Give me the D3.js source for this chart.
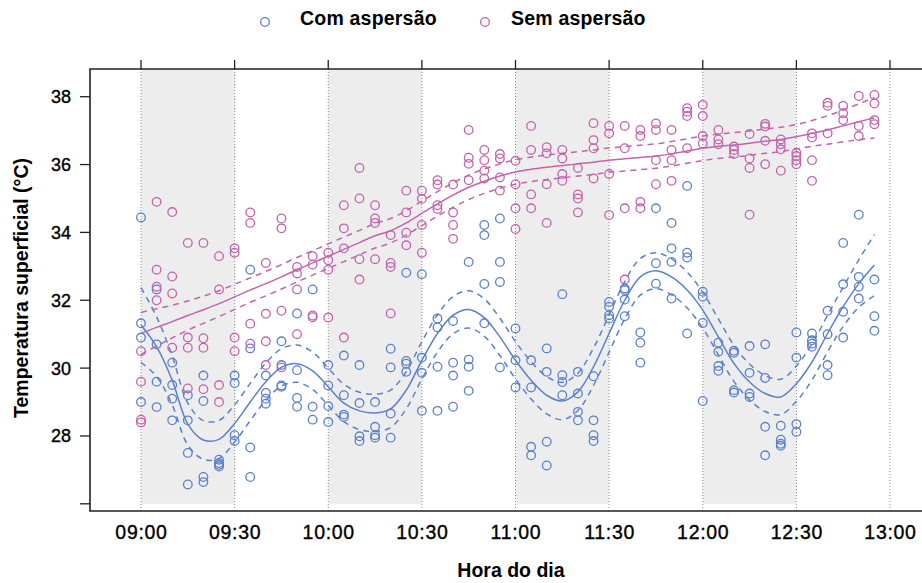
<!DOCTYPE html>
<html><head><meta charset="utf-8">
<script src="https://cdn.jsdelivr.net/npm/d3@7/dist/d3.min.js"></script>
<style>
body{margin:0;background:#fff;}
svg text{font-family:"Liberation Sans",Arial,sans-serif;fill:#000;}
</style></head>
<body><svg id="c" width="922" height="583"></svg>
<script>
const times = ["09:00","09:05","09:10","09:15","09:20","09:25","09:30","09:35","09:40","09:45","09:50","09:55",
"10:00","10:05","10:10","10:15","10:20","10:25","10:30","10:35","10:40","10:45","10:50","10:55",
"11:00","11:05","11:10","11:15","11:20","11:25","11:30","11:35","11:40","11:45","11:50","11:55",
"12:00","12:05","12:10","12:15","12:20","12:25","12:30","12:35","12:40","12:45","12:50","12:55"];
const seriesNames = ["Com aspersão","Sem aspersão"];
const xTickLabels = ["09:00","09:30","10:00","10:30","11:00","11:30","12:00","12:30","13:00"];
const yTicks = [26,28,30,32,34,36,38];
const yTickLabels = ["","28","30","32","34","36","38"];
const shadedStarts = ["09:00","10:00","11:00","12:00"];
const shadedEnds = ["09:30","10:30","11:30","12:30"];

const comObs = [
[34.44,31.32,30.9,29.0],[32.32,30.7,29.6,28.85],[30.16,29.5,29.1,28.46],[29.2,28.46,27.5,26.57],
[29.78,29.03,26.79,26.64],[27.3,27.2,27.15,27.1],[29.78,29.56,28.02,27.85],[32.9,30.58,27.66,26.79],
[29.78,29.27,29.1,28.95],[30.79,30.09,29.49,29.45],[31.61,29.94,29.12,28.86],[32.32,28.86,28.48],
[30.09,29.49,28.88,28.41],[30.37,29.2,28.63,28.56],[30.09,28.97,27.99,27.85],[29.0,28.27,28.02,27.95],
[30.57,30.02,28.66,27.95],[32.81,30.21,30.13,29.89],[32.77,30.31,29.86,28.74],[31.46,31.2,30.04,28.74],
[31.39,30.16,29.78,28.86],[33.13,30.25,30.04,29.33],[34.22,33.92,32.48,31.32],[34.41,33.13,32.54,30.02],
[31.17,30.23,29.43],[30.23,29.43,27.68,27.43],[30.58,29.89,27.83,27.13],[32.18,29.79,29.59,29.2],
[29.89,29.25,28.71,28.46],[29.76,28.46,28.02,27.85],[31.95,31.81,31.56,31.46],[32.35,32.3,32.02,31.53],
[31.05,30.75,30.16],[34.71,33.09,32.49],[34.28,33.53,33.13,32.05],[35.37,33.4,33.26,31.02],
[32.25,32.1,31.33,29.03],[30.75,30.48,30.06,29.92],[30.51,30.45,29.35,29.28],[30.65,29.86,29.25,29.15],
[30.7,29.71,28.27,27.43],[28.3,27.89,27.77,27.71],[31.05,30.31,28.35,28.12],[31.02,30.82,30.72,30.63],
[31.69,31.0,30.09,29.79],[33.69,32.47,31.66,30.9],[34.52,32.69,32.4,32.05],[32.61,31.53,31.1]];

const semObs = [
[30.5,29.6,28.48,28.4],[34.9,32.9,32.4,32.0],[34.6,32.7,32.2,30.6],[33.69,30.9,30.6,29.4],
[33.69,30.88,30.6,29.38],[33.3,32.32,29.5,29.0],[33.53,33.4,30.9,30.5],[34.59,34.28,31.31,30.72],
[33.1,31.6,30.79,30.09],[34.41,34.12,31.69,30.02],[32.98,32.79,32.32,31.0],[33.3,33.05,31.55,31.5],
[33.4,33.18,32.9,31.49],[34.8,34.12,33.53,30.9],[35.9,35.0,33.21,32.61],[34.8,34.41,34.28,33.21],
[33.92,33.1,32.98,31.61],[35.23,34.59,33.99,33.62],[35.23,34.99,34.22,33.4],[35.54,35.41,34.8,34.69],
[35.41,34.59,34.22,33.81],[37.02,36.2,36.02,35.54],[36.43,36.13,35.82,35.59],[36.31,36.18,35.62,35.23],
[36.11,35.42,34.71,34.1],[37.14,36.43,35.12,34.71],[36.51,36.33,35.42,34.28],[36.43,36.18,35.72,35.52],
[35.9,35.12,35.0,34.59],[37.22,36.72,36.48,35.59],[37.14,36.92,35.72,34.51],[37.14,36.48,34.71,32.61],
[37.02,36.84,34.9,34.71],[37.21,37.02,36.13,35.42],[37.02,36.43,36.13,35.52],[37.66,37.56,37.43,36.48],
[37.76,37.43,36.84,36.62],[37.02,36.74,36.6],[36.53,36.43,36.31],[36.9,36.18,35.9,34.52],
[37.2,37.12,36.7,36.01],[36.74,36.6,36.45,35.82],[36.35,36.25,36.13,36.01],[36.92,36.8,36.13,35.52],
[37.82,37.73,36.92],[37.73,37.51,37.31],[38.02,37.14,36.84],[38.05,37.8,37.31,37.19]];

const comFit = [31.27,30.63,29.64,28.35,27.88,27.9,28.37,29.0,29.6,30.02,30.13,29.92,
29.45,28.97,28.74,28.68,28.8,29.35,30.23,31.02,31.56,31.73,31.49,30.92,
30.23,29.64,29.2,29.03,29.3,30.04,31.02,32.0,32.69,32.87,32.69,32.3,
31.71,30.92,30.14,29.59,29.25,29.15,29.54,30.18,31.02,31.81,32.49,33.04];
const comUpper = [32.37,31.51,30.36,28.97,28.45,28.46,28.92,29.55,30.15,30.57,30.68,30.47,
30.0,29.52,29.29,29.23,29.35,29.9,30.78,31.57,32.11,32.28,32.04,31.47,
30.78,30.19,29.75,29.58,29.85,30.59,31.57,32.55,33.23,33.4,33.22,32.83,
32.24,31.45,30.67,30.12,29.78,29.67,30.06,30.71,31.56,32.39,33.19,33.94];
const comLower = [30.17,29.75,28.92,27.73,27.31,27.34,27.82,28.45,29.05,29.47,29.58,29.37,
28.9,28.42,28.19,28.13,28.25,28.8,29.68,30.47,31.01,31.18,30.94,30.37,
29.68,29.09,28.65,28.48,28.75,29.49,30.47,31.45,32.15,32.34,32.16,31.77,
31.18,30.39,29.61,29.06,28.72,28.63,29.02,29.65,30.48,31.23,31.79,32.14];

const semFit = [31.02,31.2,31.37,31.55,31.72,31.9,32.1,32.3,32.49,32.69,32.9,33.1,
33.3,33.5,33.7,33.9,34.05,34.28,34.56,34.84,35.1,35.33,35.51,35.66,
35.78,35.86,35.92,35.97,36.02,36.07,36.13,36.17,36.21,36.25,36.32,36.4,
36.48,36.54,36.58,36.63,36.69,36.74,36.82,36.92,37.02,37.14,37.26,37.38];
const semUpper = [31.64,31.75,31.85,31.98,32.12,32.28,32.47,32.66,32.85,33.05,33.26,33.46,
33.66,33.86,34.06,34.26,34.41,34.64,34.92,35.2,35.46,35.69,35.87,36.02,
36.14,36.22,36.28,36.33,36.38,36.43,36.49,36.53,36.57,36.61,36.68,36.76,
36.84,36.9,36.94,36.99,37.05,37.1,37.18,37.3,37.44,37.61,37.79,37.98];
const semLower = [30.4,30.65,30.89,31.12,31.32,31.52,31.73,31.94,32.13,32.33,32.54,32.74,
32.94,33.14,33.34,33.54,33.69,33.92,34.2,34.48,34.74,34.97,35.15,35.3,
35.42,35.5,35.56,35.61,35.66,35.71,35.77,35.81,35.85,35.89,35.96,36.04,
36.12,36.18,36.22,36.27,36.33,36.38,36.46,36.54,36.6,36.67,36.73,36.78];

const colors = ["#5a80cc","#c462ad"];

const parse = d3.timeParse("%H:%M");
const svg = d3.select("#c");
const L = 90, T = 69, R = 925, B = 511;
const x = d3.scaleTime().domain([parse("09:00"), parse("13:00")]).range([141, 890]);
const y = d3.scaleLinear().domain([26, 38]).range([503.8, 96.7]);

// shaded bands
shadedStarts.forEach((s,i)=>{
  svg.append("rect").attr("x", x(parse(s))).attr("y", T)
    .attr("width", x(parse(shadedEnds[i])) - x(parse(s)))
    .attr("height", y(26) - T).attr("fill", "#ededed");
});
// dotted vertical lines
const xTicks = xTickLabels.map(parse);
svg.selectAll(".vl").data(xTicks).enter().append("line")
  .attr("x1", d=>x(d)).attr("x2", d=>x(d)).attr("y1", T).attr("y2", B)
  .attr("stroke", "#8a8a8a").attr("stroke-width", 1).attr("stroke-dasharray", "1,2");

// points
const drawPts = (obs, col) => {
  const pts = [];
  obs.forEach((arr,i)=>arr.forEach(v=>pts.push({t:parse(times[i]), v})));
  svg.append("g").selectAll("circle").data(pts).enter().append("circle")
    .attr("cx", d=>x(d.t)).attr("cy", d=>y(d.v)).attr("r", 4.3)
    .attr("fill", "none").attr("stroke", col).attr("stroke-width", 1.3);
};
drawPts(comObs, colors[0]);
drawPts(semObs, colors[1]);

// lines
const line = d3.line().x((d,i)=>x(parse(times[i]))).y(d=>y(d)).curve(d3.curveCatmullRom.alpha(0.5));
const drawLine = (vals, col, dashed) => {
  svg.append("path").attr("d", line(vals)).attr("fill","none").attr("stroke", col)
    .attr("stroke-width", 1.5).attr("stroke-dasharray", dashed ? "6,5" : null);
};
drawLine(comFit, colors[0], false); drawLine(comUpper, colors[0], true); drawLine(comLower, colors[0], true);
drawLine(semFit, colors[1], false); drawLine(semUpper, colors[1], true); drawLine(semLower, colors[1], true);

// panel border
svg.append("path").attr("d", `M${R},${T}H${L}V${B}H${R}`).attr("fill","none")
  .attr("stroke", "#222").attr("stroke-width", 1.6);

// top ticks
svg.selectAll(".tt").data(xTicks).enter().append("line")
  .attr("x1", d=>x(d)).attr("x2", d=>x(d)).attr("y1", T-9).attr("y2", T)
  .attr("stroke", "#222").attr("stroke-width", 1.3);
// x labels
svg.selectAll(".xl").data(xTicks).enter().append("text")
  .attr("x", d=>x(d)+0.5).attr("y", 539).attr("text-anchor","middle")
  .attr("font-size", 19.5).attr("letter-spacing", 0.7)
  .attr("stroke", "#000").attr("stroke-width", 0.35)
  .text(d=>d3.timeFormat("%H:%M")(d));
// y ticks
svg.selectAll(".yt").data(yTicks).enter().append("line")
  .attr("x1", L-10).attr("x2", L).attr("y1", d=>y(d)).attr("y2", d=>y(d))
  .attr("stroke", "#222").attr("stroke-width", 1.3);
svg.selectAll(".yl").data(yTicks).enter().append("text")
  .attr("x", 71).attr("y", d=>y(d)+6.5).attr("text-anchor","end")
  .attr("font-size", 18).attr("stroke", "#000").attr("stroke-width", 0.35)
  .text((d,i)=>yTickLabels[i]);

// axis titles
svg.append("text").attr("x", 511).attr("y", 577).attr("text-anchor","middle")
  .attr("font-size", 19.5).attr("font-weight", "bold").text("Hora do dia");
svg.append("text").attr("transform","translate(28,288) rotate(-90)").attr("text-anchor","middle")
  .attr("font-size", 19.5).attr("font-weight", "bold").text("Temperatura superficial (°C)");

// legend
const legX = [265, 485], legTX = [300, 511];
seriesNames.forEach((n,i)=>{
  svg.append("circle").attr("cx", legX[i]).attr("cy", 22).attr("r", 4.3)
    .attr("fill","none").attr("stroke", colors[i]).attr("stroke-width", 1.3);
  svg.append("text").attr("x", legTX[i]).attr("y", 25).attr("font-size", 19.5)
    .attr("font-weight", "bold").attr("letter-spacing", 0.2).text(n);
});
</script></body></html>
